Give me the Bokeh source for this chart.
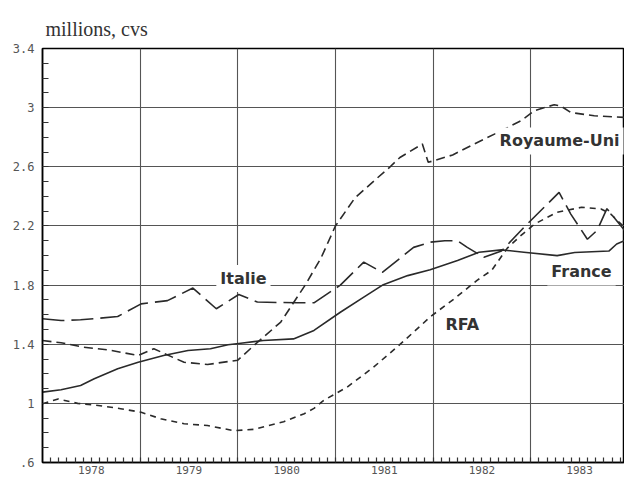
from bokeh.plotting import figure
from bokeh.models import Range1d, FixedTicker, Label
from bokeh.embed import file_html
from bokeh.resources import INLINE

# ---- data (decimal years, millions cvs) ----
france_t = [1978.00, 1978.19, 1978.39, 1978.53, 1978.77, 1978.98, 1979.24, 1979.49, 1979.72,
            1979.90, 1980.03, 1980.26, 1980.57, 1980.78, 1981.05, 1981.29, 1981.49, 1981.74,
            1981.97, 1982.25, 1982.47, 1982.70, 1982.93, 1983.27, 1983.45, 1983.80, 1983.88, 1983.96]
france_v = [1.076, 1.092, 1.121, 1.166, 1.234, 1.278, 1.324, 1.357, 1.369,
            1.396, 1.407, 1.425, 1.436, 1.493, 1.616, 1.718, 1.803, 1.864,
            1.903, 1.966, 2.022, 2.038, 2.022, 1.999, 2.020, 2.030, 2.078, 2.100]

italie_t = [1978.00, 1978.19, 1978.39, 1978.77, 1979.01, 1979.28, 1979.54, 1979.78, 1980.01,
            1980.20, 1980.61, 1980.78, 1981.05, 1981.29, 1981.48, 1981.80, 1981.97, 1982.12,
            1982.25, 1982.35, 1982.52, 1982.70, 1982.93, 1983.29, 1983.41, 1983.58, 1983.68,
            1983.78, 1983.96]
italie_v = [1.572, 1.560, 1.565, 1.587, 1.673, 1.695, 1.780, 1.640, 1.736,
            1.685, 1.680, 1.680, 1.800, 1.955, 1.886, 2.055, 2.090, 2.100,
            2.100, 2.055, 1.988, 2.030, 2.190, 2.427, 2.280, 2.110, 2.170,
            2.317, 2.170]

ru_t = [1978.00, 1978.19, 1978.42, 1978.67, 1978.98, 1979.14, 1979.27, 1979.45, 1979.69,
        1980.00, 1980.18, 1980.44, 1980.69, 1980.85, 1981.00, 1981.20, 1981.43, 1981.56,
        1981.66, 1981.89, 1981.95, 1982.20, 1982.42, 1982.70, 1982.90, 1983.04, 1983.24,
        1983.31, 1983.41, 1983.65, 1983.96]
ru_v = [1.425, 1.410, 1.380, 1.362, 1.324, 1.370, 1.330, 1.278, 1.263,
        1.292, 1.400, 1.550, 1.800, 1.980, 2.200, 2.390, 2.525, 2.600,
        2.663, 2.754, 2.630, 2.680, 2.754, 2.844, 2.912, 2.980, 3.020,
        3.010, 2.967, 2.945, 2.934]

rfa_t = [1978.00, 1978.16, 1978.36, 1978.57, 1978.80, 1979.01, 1979.21, 1979.45, 1979.69,
         1979.96, 1980.16, 1980.47, 1980.68, 1980.78, 1980.88, 1981.12, 1981.39, 1981.63,
         1981.98, 1982.22, 1982.45, 1982.60, 1982.76, 1982.89, 1983.04, 1983.27, 1983.52,
         1983.72, 1983.82, 1983.96]
rfa_v = [0.997, 1.030, 1.000, 0.986, 0.964, 0.940, 0.896, 0.862, 0.850,
         0.815, 0.824, 0.876, 0.930, 0.966, 1.020, 1.110, 1.245, 1.380,
         1.590, 1.709, 1.832, 1.900, 2.050, 2.130, 2.213, 2.292, 2.326,
         2.315, 2.280, 2.190]

year_ticks = [1978.5, 1979.5, 1980.5, 1981.5, 1982.5, 1983.5]
year_labels = ["1978", "1979", "1980", "1981", "1982", "1983"]
year_bounds = [1979, 1980, 1981, 1982, 1983]
month_ticks = [1978 + m / 12 for m in range(1, 72)]
y_ticks = [0.6, 1.0, 1.4, 1.8, 2.2, 2.6, 3.0, 3.4]
y_labels = [".6", "1", "1.4", "1.8", "2.2", "2.6", "3", "3.4"]
y_minor = [round(0.6 + k * 0.1, 1) for k in range(1, 28)]

INK = "#2a2a2a"

p = figure(width=624, height=478, output_backend="svg", toolbar_location=None,
           x_range=Range1d(1978, 1983.96), y_range=Range1d(0.6, 3.4),
           min_border_left=42, min_border_right=0, min_border_top=48, min_border_bottom=16,
           title="millions, cvs")
p.background_fill_color = "white"
p.border_fill_color = "white"
p.outline_line_color = "black"
p.outline_line_width = 1.5

p.title.text_font = "Liberation Serif"
p.title.text_font_size = "20px"
p.title.text_font_style = "normal"
p.title.text_color = "#333333"
p.title.align = "left"
p.title.offset = 3
p.title.standoff = 18

# x axis
p.xaxis.ticker = FixedTicker(ticks=year_ticks, minor_ticks=month_ticks)
p.xaxis.major_label_overrides = dict(zip(year_ticks, year_labels))
p.xaxis.major_tick_in = 0
p.xaxis.major_tick_out = 0
p.xaxis.minor_tick_in = 5
p.xaxis.minor_tick_out = 0
p.xaxis.major_label_standoff = 3
p.xaxis.major_label_text_font_size = "11px"
# y axis
p.yaxis.ticker = FixedTicker(ticks=y_ticks, minor_ticks=y_minor)
p.yaxis.major_label_overrides = dict(zip(y_ticks, y_labels))
p.yaxis.major_tick_in = 0
p.yaxis.major_tick_out = 0
p.yaxis.minor_tick_in = 6
p.yaxis.minor_tick_out = 0
p.yaxis.major_label_standoff = 8
p.yaxis.major_label_text_font_size = "12px"
for ax in (p.xaxis, p.yaxis):
    ax.axis_line_color = "black"
    ax.axis_line_width = 1.5
    ax.minor_tick_line_color = "#333333"
    ax.minor_tick_line_width = 1.2
    ax.major_label_text_font = "DejaVu Sans Mono"
    ax.major_label_text_color = "#555555"

p.xgrid.ticker = FixedTicker(ticks=year_bounds)
p.ygrid.ticker = FixedTicker(ticks=y_ticks)
p.grid.grid_line_color = "#555555"
p.grid.grid_line_width = 1.1

p.line(france_t, france_v, line_color=INK, line_width=1.6)
p.line(italie_t, italie_v, line_color=INK, line_width=1.6, line_dash="22 7")
p.line(ru_t, ru_v, line_color=INK, line_width=1.6, line_dash="9 5")
p.line(rfa_t, rfa_v, line_color=INK, line_width=1.6, line_dash="6 5")

label_style = dict(text_font="DejaVu Sans", text_font_style="bold", text_font_size="16px",
                   text_color="#333333", text_baseline="middle", text_align="left",
                   background_fill_color="white", padding=4)
p.add_layout(Label(x=1982.64, y=2.775, text="Royaume-Uni", **label_style))
p.add_layout(Label(x=1979.78, y=1.844, text="Italie", **label_style))
p.add_layout(Label(x=1983.17, y=1.889, text="France", **label_style))
p.add_layout(Label(x=1982.085, y=1.533, text="RFA", **label_style))

open("out.html", "w").write(file_html(p, INLINE))
